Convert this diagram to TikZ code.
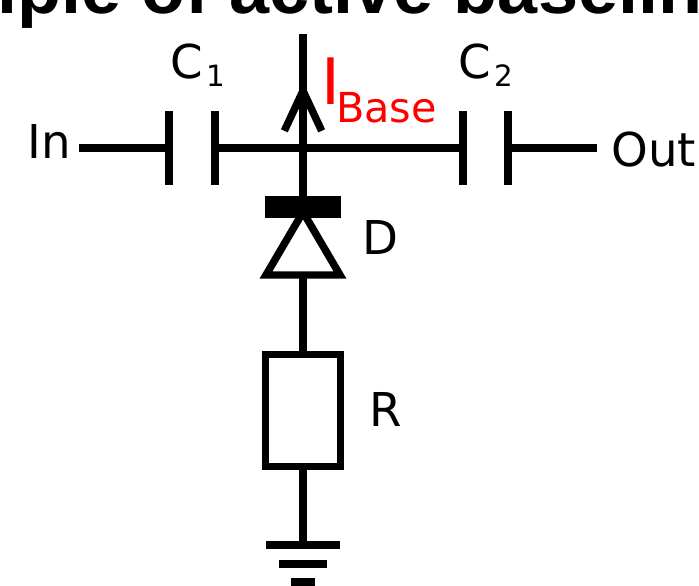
\documentclass[tikz,border=0pt]{standalone}
\usepackage{fontspec}
\setmainfont{DejaVu Sans}
\newfontfamily\titlefont{Liberation Sans}
\usetikzlibrary{arrows.meta}

\begin{document}
\begin{tikzpicture}[
    x=0.75pt, y=-0.75pt,
    wire/.style={line width=5.6pt, black},
    hwire/.style={line width=6pt, black},
    plate/.style={rectangle, fill=black, inner sep=0pt, outer sep=0pt, minimum width=6pt, minimum height=56pt},
    gndbar/.style={rectangle, fill=black, inner sep=0pt, outer sep=0pt, minimum height=6pt},
    label/.style={inner sep=0pt, anchor=base west, font=\fontsize{35}{35}\selectfont},
    sublabel/.style={inner sep=0pt, anchor=base west, font=\fontsize{22}{22}\selectfont},
    current/.style={inner sep=0pt, anchor=base west, text=red}
]
\useasboundingbox (0,0) rectangle (699,585);

% Title, cut off by the page
\clip (0,0) rectangle (699,585);
\node[inner sep=0pt, anchor=base] (title) at (350,14) {\titlefont\bfseries\fontsize{54}{54}\selectfont iple of active baselin};

% Capacitors
\node[plate] (c1a) at (169,148) {};
\node[plate] (c1b) at (215,148) {};
\node[plate] (c2a) at (463,148) {};
\node[plate] (c2b) at (508,148) {};

% Free ends
\coordinate (in) at (79,148);
\coordinate (out) at (597,148);
\coordinate (top) at (303,34);
\coordinate (tip) at (303,82);
\coordinate (junction) at (303,148);

% Diode
\node[rectangle, fill=black, inner sep=0pt, outer sep=0pt, minimum width=57pt, minimum height=16.5pt] (bar) at (303,207) {};
\coordinate (apex) at (303,212);
\coordinate (baseL) at (266,275);
\coordinate (baseR) at (340,275);
\coordinate (baseM) at (303,275);

% Resistor
\node[rectangle, draw=black, line width=5.6pt, inner sep=0pt, outer sep=0pt, minimum width=56.25pt, minimum height=84pt] (res) at (303,410.5) {};

% Ground
\node[gndbar, minimum width=55.5pt] (g1) at (303,545) {};
\node[gndbar, minimum width=36.5pt] (g2) at (303,563.5) {};
\node[gndbar, minimum width=18.5pt] (g3) at (303,582) {};

% Connections
\draw[hwire] (in) -- (c1a);
\draw[hwire] (c1b) -- (c2a);
\draw[hwire] (c2b) -- (out);
\draw[wire] (top) -- (bar);
\draw[wire, -{Straight Barb[length=30pt, width=28pt, line width=5.6pt]}] (junction) -- (tip);
\draw[wire, line join=miter] (apex) -- (baseR) -- (baseL) -- cycle;
\draw[wire] (baseM) -- (res);
\draw[wire] (res) -- (g1);

% Labels
\node[label] (lin) at (27,158) {In};
\node[label] (lout) at (611,166) {Out};
\node[label] (lc1) at (170,79) {C};
\node[sublabel] (lc1s) at (206,87) {1};
\node[label] (lc2) at (458,79) {C};
\node[sublabel] (lc2s) at (494,87) {2};
\node[label] (ld) at (362,254) {D};
\node[label] (lr) at (369,426) {R};
\node[current, font=\fontsize{48}{48}\selectfont] (li) at (321,104) {I};
\node[current, font=\fontsize{31}{31}\selectfont] (lbase) at (336,122) {Base};

\end{tikzpicture}
\end{document}
